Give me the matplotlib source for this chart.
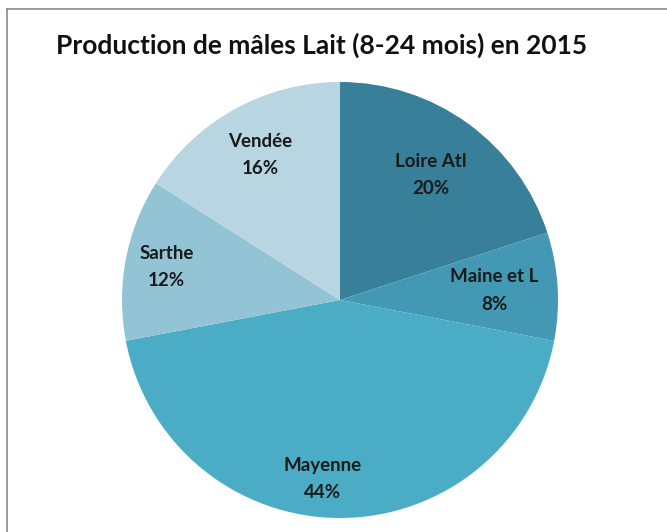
import numpy as np
import matplotlib
matplotlib.use("Agg")
import matplotlib.pyplot as plt
from matplotlib.lines import Line2D

# data
regions = ["Loire Atl", "Maine et L", "Mayenne", "Sarthe", "Vendée"]
shares = [20, 8, 44, 12, 16]
colors = ["#38809A", "#4399B3", "#4BACC6", "#93C4D6", "#B8D6E2"]
title = "Production de mâles Lait (8-24 mois) en 2015"

# label placement (fraction of radius), tuned per slice
label_r = [0.71, 0.71, 0.82, 0.81, 0.76]
label_dx = [0.0, 0.0, -0.08, 0.0, 0.0]

plt.rcParams["font.family"] = ["Lato", "DejaVu Sans"]

W, H = 667, 532
fig = plt.figure(figsize=(W / 100, H / 100), dpi=100)
fig.patch.set_facecolor("white")

cx, cy, rad = 340, 300, 218
ax = fig.add_axes([(cx - rad) / W, 1 - (cy + rad) / H, 2 * rad / W, 2 * rad / H])
wedges, _ = ax.pie(shares, colors=colors, startangle=90, counterclock=False,
                   radius=1, wedgeprops=dict(linewidth=0))
ax.set_xlim(-1, 1)
ax.set_ylim(-1, 1)
ax.set_aspect("auto")
ax.axis("off")

for w, name, val, r, dx in zip(wedges, regions, shares, label_r, label_dx):
    ang = np.deg2rad((w.theta1 + w.theta2) / 2)
    x = r * np.cos(ang) + dx
    y = r * np.sin(ang)
    ax.text(x, y, f"{name}\n{val}%", ha="center", va="center",
            fontsize=13.5, fontweight="bold", color="#1a1a1a", linespacing=1.75)

fig.text(322 / W, 1 - 45 / H, title, ha="center", va="center",
         fontsize=19, fontweight="bold", color="#111111")

# chart frame (left and top edges visible)
fig.add_artist(Line2D([7 / W, 7 / W], [0, 1 - 9 / H], transform=fig.transFigure,
                      color="#8a8a8a", linewidth=1.2))
fig.add_artist(Line2D([7 / W, 1], [1 - 9 / H, 1 - 9 / H], transform=fig.transFigure,
                      color="#8a8a8a", linewidth=1.2))

fig.savefig("out.png", dpi=100, facecolor="white")
